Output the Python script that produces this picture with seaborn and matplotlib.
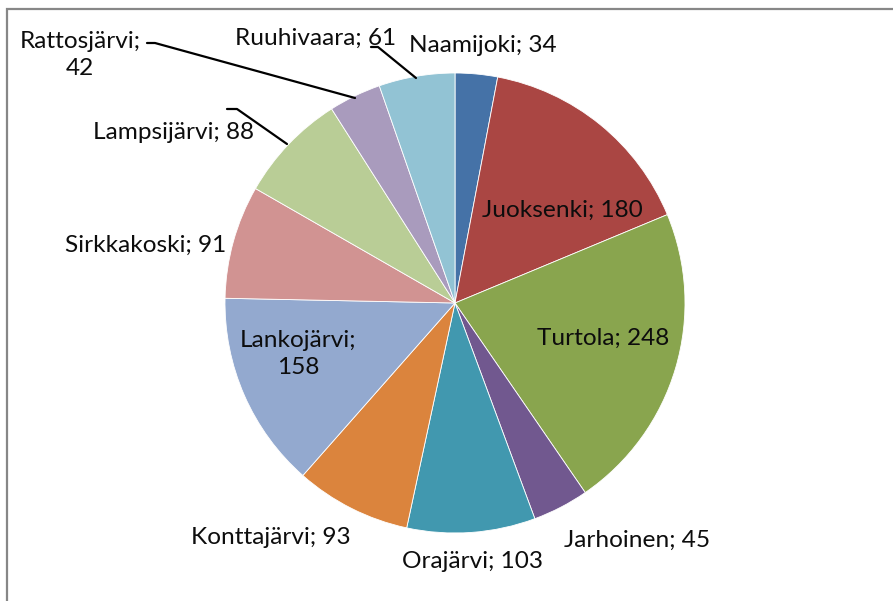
import matplotlib
matplotlib.use('Agg')
import matplotlib.pyplot as plt
import seaborn as sns
from matplotlib.patches import Rectangle

# slice data, clockwise from 12 o'clock
places = ['Naamijoki', 'Juoksenki', 'Turtola', 'Jarhoinen', 'Orajärvi', 'Konttajärvi',
          'Lankojärvi', 'Sirkkakoski', 'Lampsijärvi', 'Rattosjärvi', 'Ruuhivaara']
counts = [34, 180, 248, 45, 103, 93, 158, 91, 88, 42, 61]
colors = ['#4572A7', '#AA4643', '#89A54E', '#71588F', '#4198AF', '#DB843D',
          '#93A9CF', '#D19392', '#B9CD96', '#A99BBD', '#92C3D4']

# pie geometry in pixels
W, H = 893, 601
CX, CY, R = 455, 303, 230


def px(x, y):
    # pixel position -> data coords (pie radius = 1)
    return (x - CX) / R, (CY - y) / R


# label text layout (pixel centres) and leader lines
label_text = {
    'Lankojärvi': 'Lankojärvi;\n158',
    'Rattosjärvi': 'Rattosjärvi;\n42',
}
label_pos = {
    'Naamijoki': (483, 46), 'Juoksenki': (562, 210), 'Turtola': (603, 338),
    'Jarhoinen': (637, 540), 'Orajärvi': (473, 562), 'Konttajärvi': (271, 537),
    'Lankojärvi': (298, 354), 'Sirkkakoski': (146, 245), 'Lampsijärvi': (174, 133),
    'Rattosjärvi': (80, 55), 'Ruuhivaara': (316, 38),
}
leaders = {
    'Rattosjärvi': [(147, 43), (155, 43), (355, 98)],
    'Ruuhivaara': [(371, 47), (378, 47), (416, 78)],
    'Lampsijärvi': [(227, 109), (237, 109), (287, 144)],
}

sns.set_theme(style='white')
plt.rcParams['font.family'] = ['Lato', 'DejaVu Sans']

fig = plt.figure(figsize=(W / 100, H / 100), dpi=100)
ax = fig.add_axes([0, 0, 1, 1])
ax.axis('off')

ax.pie(counts, colors=sns.color_palette(colors), startangle=90, counterclock=False,
       radius=1, center=(0, 0), wedgeprops=dict(edgecolor='white', linewidth=0.6))
ax.set_xlim((0 - CX) / R, (W - CX) / R)
ax.set_ylim((CY - H) / R, CY / R)
ax.set_aspect('auto')

for name, val in zip(places, counts):
    txt = label_text.get(name, f'{name}; {val}')
    x, y = px(*label_pos[name])
    ax.text(x, y, txt, ha='center', va='center', fontsize=17.6, color='#0d0d0d',
            linespacing=1.4)

for pts in leaders.values():
    xs, ys = zip(*[px(*p) for p in pts])
    ax.plot(xs, ys, color='black', linewidth=1.6)

fig.patches.append(Rectangle((7 / W, -0.1), 1.2, 1 - 9 / H + 0.1, transform=fig.transFigure,
                             fill=False, edgecolor='#878787', linewidth=1.6))

fig.savefig('out.png', dpi=100)
